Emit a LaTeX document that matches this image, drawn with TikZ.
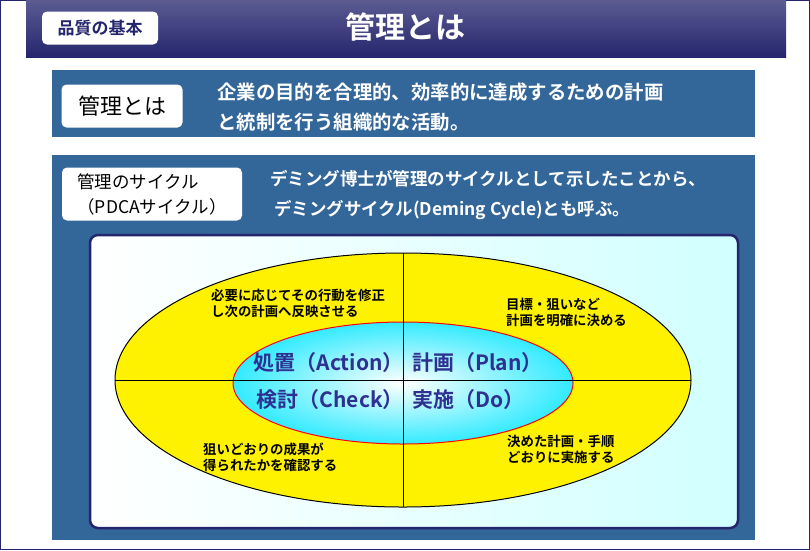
\documentclass[tikz,border=0pt]{standalone}
\usepackage{fontspec}
\setmainfont{Noto Sans CJK JP}
\newfontfamily\jpb{Noto Sans CJK JP Bold}
\usetikzlibrary{shadows}
\definecolor{navy}{HTML}{25256E}
\definecolor{steel}{HTML}{336699}
\definecolor{pdca}{HTML}{2E3192}
\tikzset{
 lbl/.style={fill=white,rounded corners=5pt,draw=none},
 wt/.style={text=white,anchor=west},
 qt/.style={font=\jpb\fontsize{13.4}{16}\selectfont,align=left,anchor=west,inner sep=0},
 pd/.style={font=\jpb\fontsize{21}{22}\selectfont,text=pdca,inner sep=0}
}
\begin{document}
\begin{tikzpicture}[x=1pt,y=-1pt]
\useasboundingbox (0,0) rectangle (810,550);
\fill[white] (0,0) rectangle (810,550);
\draw[navy,line width=1pt] (0.5,0.5) rectangle (809.5,549.5);
% header
\shade[top color=navy!75!white,bottom color=navy] (26,0) rectangle (786,57);
\node[lbl,minimum width=116,minimum height=33,text=navy,font=\jpb\fontsize{17}{18}\selectfont] (badge) at (100,28) {品質の基本};
\node[text=white,font=\jpb\fontsize{30}{32}\selectfont] (title) at (405,27) {管理とは};
% box 1
\fill[steel] (52,70) rectangle (755,137);
\node[lbl,minimum width=121,minimum height=43,font=\fontsize{22}{24}\selectfont] (k1) at (122,106) {管理とは};
\node[wt,align=left,inner sep=0,font=\jpb\fontsize{19.4}{30}\selectfont] (t1) at (217,107) {企業の目的を合理的、効率的に達成するための計画\\と統制を行う組織的な活動。};
% box 2
\fill[steel] (52,155) rectangle (755,540);
\node[lbl,minimum width=180,minimum height=53,align=left,font=\fontsize{17.5}{25}\selectfont] (k2) at (152,194) {管理のサイクル\\（PDCAサイクル）};
\node[wt,align=left,inner sep=0,font=\jpb\fontsize{17.5}{30}\selectfont] (t2) at (270,195) {デミング博士が管理のサイクルとして示したことから、\\\ デミングサイクル(Deming Cycle)とも呼ぶ。};
% inner panel
\shade[left color=white,right color=cyan!18,draw=navy,line width=2.5pt,rounded corners=8pt] (90,235) rectangle (738,528);
% ellipses
\draw[fill=yellow,line width=1pt] (403,380) ellipse [x radius=288,y radius=127];
\shade[inner color=white,outer color=cyan!90!blue!80] (403,383) ellipse [x radius=170,y radius=61];
\draw[red,line width=1pt] (403,383) ellipse [x radius=170,y radius=61];
\coordinate (vt) at (403,253); \coordinate (vb) at (403,507);
\coordinate (hl) at (115,380); \coordinate (hr) at (691,380);
\draw[line width=1pt] (vt) -- (vb);
\draw[line width=1pt] (hl) -- (hr);
% PDCA
\node[pd,anchor=east] (A) at (404,363) {処置（Action）};
\node[pd,anchor=west] (P) at (412,363) {計画（Plan）};
\node[pd,anchor=east] (C) at (404,400) {検討（Check）};
\node[pd,anchor=west] (D) at (412,400) {実施（Do）};
% quadrant notes
\node[qt] (q1) at (211,303) {必要に応じてその行動を修正\\し次の計画へ反映させる};
\node[qt] (q2) at (506,312) {目標・狙いなど\\計画を明確に決める};
\node[qt] (q3) at (203,457) {狙いどおりの成果が\\得られたかを確認する};
\node[qt] (q4) at (507,449) {決めた計画・手順\\どおりに実施する};
\end{tikzpicture}
\end{document}
